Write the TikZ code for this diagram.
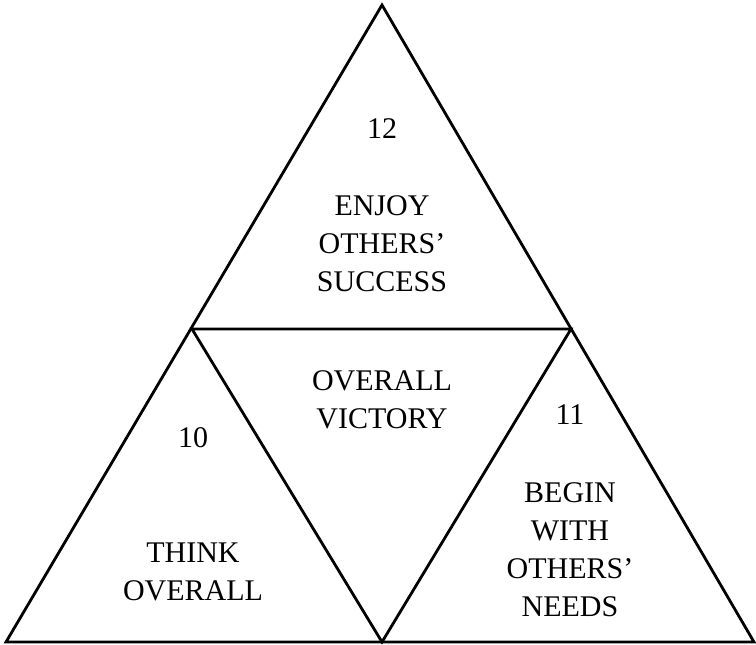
\documentclass[tikz,border=0pt]{standalone}
\usepackage{fontspec}
\setmainfont{Liberation Serif}
\begin{document}
\begin{tikzpicture}[x=0.5pt,y=-0.5pt,line width=1.4pt,
  txt/.style={font=\fontsize{15}{19}\selectfont,align=center,inner sep=0pt}]
\useasboundingbox (0,0) rectangle (756,644);
% Corners
\coordinate (top) at (382,5);
\coordinate (bl) at (6,642);
\coordinate (br) at (754,642);
% Midpoints
\coordinate (lm) at (192,329);
\coordinate (rm) at (571,329);
\coordinate (bm) at (382,642);
% Outer triangle
\draw (top) -- (bl) -- (br) -- cycle;
% Inner triangle
\draw (lm) -- (rm) -- (bm) -- cycle;
% Numbers
\node[txt] (n12) at (382,129) {12};
\node[txt] (n10) at (193,438) {10};
\node[txt] (n11) at (570,415) {11};
% Labels
\node[txt] (enjoy) at (382,244) {ENJOY\\OTHERS'\\SUCCESS};
\node[txt] (victory) at (382,400) {OVERALL\\VICTORY};
\node[txt] (think) at (193,572) {THINK\\OVERALL};
\node[txt] (begin) at (570,550) {BEGIN\\WITH\\OTHERS'\\NEEDS};
\end{tikzpicture}
\end{document}
